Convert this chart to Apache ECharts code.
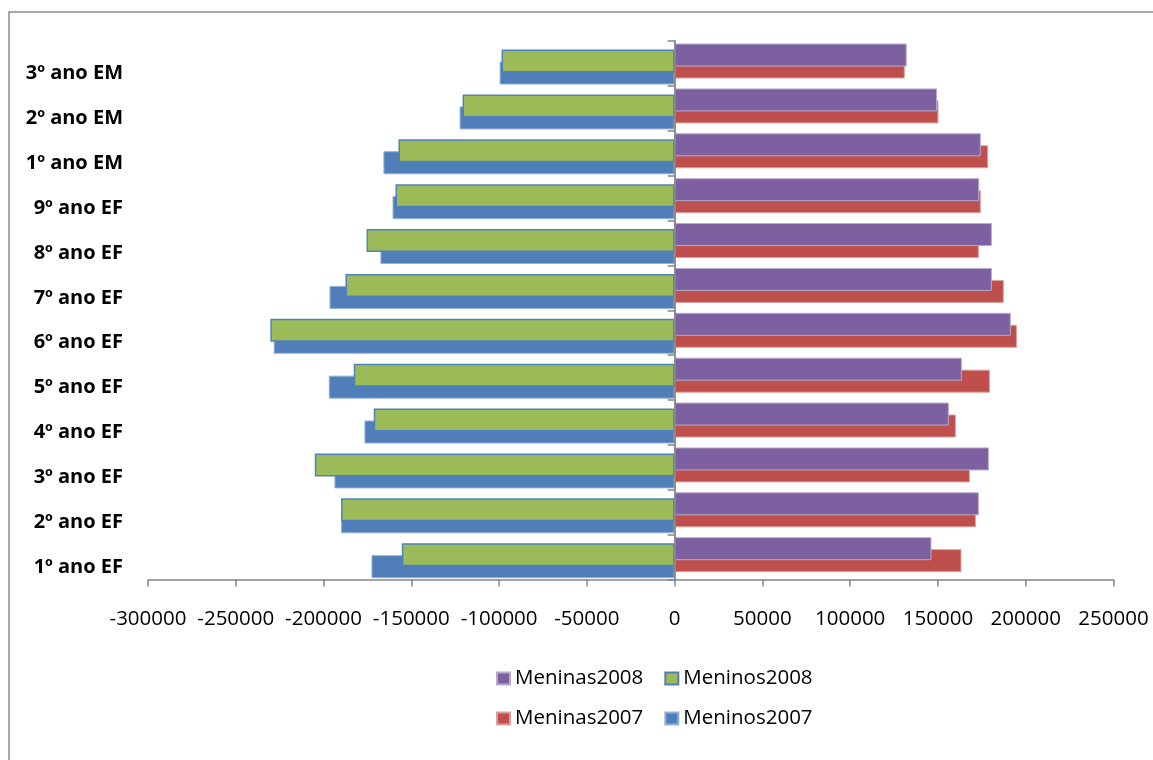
<!DOCTYPE html>
<html>
<head>
<meta charset="utf-8">
<script src="https://cdn.jsdelivr.net/npm/echarts@6/dist/echarts.min.js"></script>
<style>
  html, body { margin: 0; padding: 0; background: #fff; }
  #chart { width: 1153px; height: 760px; }
</style>
</head>
<body>
<div id="chart"></div>
<script>
// School grades, bottom to top of the chart
const categories = ['1º ano EF', '2º ano EF', '3º ano EF', '4º ano EF', '5º ano EF', '6º ano EF',
                    '7º ano EF', '8º ano EF', '9º ano EF', '1º ano EM', '2º ano EM', '3º ano EM'];

// Enrolments – girls plotted to the right, boys as negative values to the left
const meninas2008 = [146300, 173300, 179000, 156200, 163600, 191500, 180700, 180700, 173500, 174400, 149500, 132200];
const meninas2007 = [163400, 171600, 168200, 160200, 179600, 195000, 187500, 173300, 174400, 178600, 150300, 131100];
const meninos2008 = [-155400, -190000, -205000, -171400, -182800, -230300, -187500, -175500, -159000, -157300, -120800, -98600];
const meninos2007 = [-172700, -190000, -193800, -176700, -197000, -228400, -196600, -167600, -160700, -165900, -122500, -99700];

// Value axis ticks
const tickMin = -300000;
const tickMax = 250000;
const tickStep = 50000;

const FONT = '"Open Sans", "Noto Sans", sans-serif';
const AXIS_GRAY = '#868686';

const plot = { left: 148, right: 39.5, top: 41, bottom: 180.5 };
const girlsShift = -2.4;   // girls' bar pair sits slightly above band centre
const boysShift = 3.6;     // boys' bar pair sits slightly below band centre

function gridAt(shift) {
  return { left: plot.left, right: plot.right, top: plot.top + shift, bottom: plot.bottom - shift, containLabel: false };
}
function hiddenValueAxis(gi) {
  return { gridIndex: gi, type: 'value', min: tickMin, max: tickMax, interval: tickStep, show: false };
}
function hiddenCategoryAxis(gi) {
  return { gridIndex: gi, type: 'category', data: categories, show: false };
}
function legendRow(names, top) {
  return {
    data: names,
    left: 496, top: top, padding: 0,
    itemWidth: 13, itemHeight: 12, itemGap: 21,
    icon: 'rect',
    textStyle: { fontFamily: FONT, fontSize: 20.5, color: '#000' }
  };
}

const chart = echarts.init(document.getElementById('chart'), null, { renderer: 'canvas' });

const option = {
  backgroundColor: '#ffffff',
  animation: false,
  graphic: [{
    type: 'rect',
    z: -10,
    shape: { x: 9, y: 12, width: 1400, height: 1000 },
    style: { fill: 'none', stroke: '#8a8a8a', lineWidth: 1.5 }
  }],
  legend: [
    legendRow(['Meninas2008', 'Meninos2008'], 668),
    legendRow(['Meninas2007', 'Meninos2007'], 708)
  ],
  grid: [gridAt(0), gridAt(girlsShift), gridAt(boysShift)],
  xAxis: [
    {
      gridIndex: 0, type: 'value', min: tickMin, max: tickMax, interval: tickStep,
      axisLine: { show: true, onZero: false, lineStyle: { color: AXIS_GRAY, width: 1.6 } },
      axisTick: { show: true, length: 7, lineStyle: { color: AXIS_GRAY, width: 1.5 } },
      splitLine: { show: false },
      axisLabel: {
        margin: 29, formatter: v => String(v),
        fontFamily: FONT, fontSize: 20.5, color: '#000'
      }
    },
    hiddenValueAxis(1),
    hiddenValueAxis(2)
  ],
  yAxis: [
    {
      // axis line through zero with ticks at band edges
      gridIndex: 0, type: 'category', data: categories, position: 'left', z: 10,
      axisLine: { show: true, onZero: true, lineStyle: { color: AXIS_GRAY, width: 1.8 } },
      axisTick: { show: true, length: 7, lineStyle: { color: AXIS_GRAY, width: 1.5 } },
      axisLabel: { show: false },
      splitLine: { show: false }
    },
    {
      // grade names along the left edge of the plot
      gridIndex: 0, type: 'category', data: categories, position: 'left',
      axisLine: { show: false, onZero: false },
      axisTick: { show: false },
      splitLine: { show: false },
      axisLabel: {
        margin: 25, fontFamily: FONT, fontWeight: 'bold', fontSize: 20, color: '#000',
        verticalAlign: 'top', lineHeight: 20
      }
    },
    hiddenCategoryAxis(1),
    hiddenCategoryAxis(2)
  ],
  series: [
    {
      name: 'Meninas2008', type: 'bar', xAxisIndex: 1, yAxisIndex: 2,
      data: meninas2008, barWidth: 23, barGap: '-48%', z: 3,
      itemStyle: { color: '#7D60A0', borderColor: '#b8aacb', borderWidth: 1 }
    },
    {
      name: 'Meninas2007', type: 'bar', xAxisIndex: 1, yAxisIndex: 2,
      data: meninas2007, barWidth: 23, barGap: '-48%', z: 2,
      itemStyle: { color: '#BE4F4C', borderColor: '#dba09e', borderWidth: 1 }
    },
    {
      name: 'Meninos2008', type: 'bar', xAxisIndex: 2, yAxisIndex: 3,
      data: meninos2008, barWidth: 23, barGap: '-48%', z: 3,
      itemStyle: { color: '#9BBB59', borderColor: '#4F81BD', borderWidth: 1.5 }
    },
    {
      name: 'Meninos2007', type: 'bar', xAxisIndex: 2, yAxisIndex: 3,
      data: meninos2007, barWidth: 23, barGap: '-48%', z: 2,
      itemStyle: { color: '#4F7EB8', borderColor: '#93b1d8', borderWidth: 1 }
    }
  ]
};

chart.setOption(option);
</script>
</body>
</html>
